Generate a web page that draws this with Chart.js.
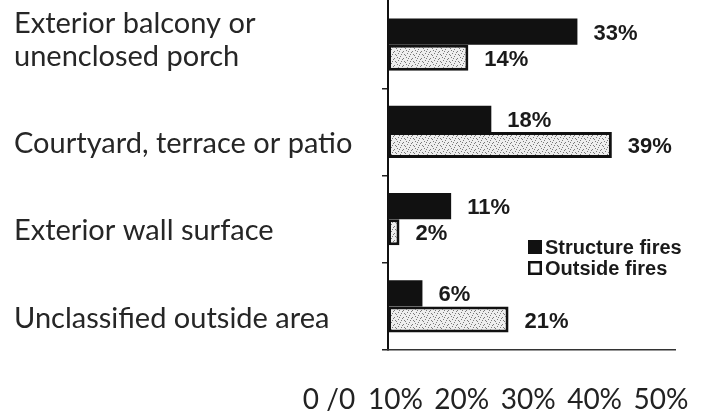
<!DOCTYPE html>
<html>
<head>
<meta charset="utf-8">
<script src="https://cdn.jsdelivr.net/npm/chart.js@4"></script>
<style>
  html, body { margin: 0; padding: 0; background: #fff; }
  canvas { display: block; }
</style>
</head>
<body>
<canvas id="fireChart" width="701" height="411" style="width:701px;height:411px"></canvas>
<script>
// Data
const categories = [
  ["Exterior balcony or", "unenclosed porch"],
  "Courtyard, terrace or patio",
  "Exterior wall surface",
  "Unclassified outside area"
];
const structureFires = [33, 18, 11, 6];
const outsideFires = [14, 39, 2, 21];
const seriesNames = ["Structure fires", "Outside fires"];
const xTickLabels = ["0 /0", "10%", "20%", "30%", "40%", "50%"];

const LABEL_FONT = "Lato, 'Open Sans', sans-serif";
const BOLD_FONT = "'Liberation Sans', Arial, sans-serif";

// light grey speckled fill, like the scanned original
function speckle() {
  const c = document.createElement("canvas");
  c.width = 9; c.height = 7;
  const g = c.getContext("2d");
  g.fillStyle = "#eeeeee";
  g.fillRect(0, 0, 9, 7);
  g.fillStyle = "#7a7a7a";
  [[1, 1], [4, 0], [7, 2], [2, 4], [5, 5], [8, 5], [0, 6], [6, 3], [3, 2]].forEach(([x, y]) => g.fillRect(x, y, 1, 1));
  return g.createPattern(c, "repeat");
}

function noPad(s) {
  s.paddingLeft = 0; s.paddingRight = 0;
  s.paddingTop = 0; s.paddingBottom = 0;
}

// value labels next to bars + the small legend inside the plot
const annotate = {
  id: "annotate",
  afterLayout(chart) {
    // the bottom percent labels are spaced independently of the bar scale
    const s = chart.scales.x2;
    s.left = 329;
    s.right = 661;
    s.width = s.right - s.left;
    s.configure();
  },
  afterDatasetsDraw(chart) {
    const ctx = chart.ctx;
    ctx.save();
    ctx.font = "bold 22px " + BOLD_FONT;
    ctx.fillStyle = "#1a1a1a";
    ctx.textAlign = "left";
    ctx.textBaseline = "middle";
    chart.data.datasets.forEach((ds, di) => {
      chart.getDatasetMeta(di).data.forEach((bar, i) => {
        ctx.fillText(ds.data[i] + "%", bar.x + 16, bar.y + 2);
      });
    });

    // legend
    const a = chart.chartArea;
    const lx = a.left + 140;
    const rows = [a.top + 247, a.top + 268];
    ctx.font = "bold 20px " + BOLD_FONT;
    chart.data.datasets.forEach((ds, di) => {
      const y = rows[di];
      if (di === 0) {
        ctx.fillStyle = "#111";
        ctx.fillRect(lx, y - 8, 14, 14);
      } else {
        ctx.fillStyle = "#fff";
        ctx.fillRect(lx, y - 8, 14, 14);
        ctx.strokeStyle = "#111";
        ctx.lineWidth = 2.5;
        ctx.strokeRect(lx + 1.25, y - 6.75, 11.5, 11.5);
      }
      ctx.fillStyle = "#1a1a1a";
      ctx.fillText(ds.label, lx + 17, y);
    });
    ctx.restore();
  }
};

new Chart(document.getElementById("fireChart"), {
  type: "bar",
  data: {
    labels: categories,
    datasets: [
      {
        label: seriesNames[0],
        data: structureFires,
        backgroundColor: "#111111",
        borderWidth: 0
      },
      {
        label: seriesNames[1],
        data: outsideFires,
        backgroundColor: speckle(),
        borderColor: "#111111",
        borderWidth: 3,
        borderSkipped: false
      }
    ]
  },
  options: {
    indexAxis: "y",
    responsive: false,
    devicePixelRatio: 1,
    animation: false,
    categoryPercentage: 0.6,
    barPercentage: 1,
    layout: { padding: { top: 1, left: 14, right: 26, bottom: 0 } },
    plugins: {
      legend: { display: false },
      title: { display: false },
      tooltip: { enabled: false }
    },
    scales: {
      y: {
        afterFit: (s) => { s.width = 374; noPad(s); },
        grid: {
          drawOnChartArea: false,
          drawTicks: true,
          tickLength: 6,
          lineWidth: 1.5,
          color: (c) => (c.index === 0 ? "rgba(0,0,0,0)" : "#222")
        },
        border: { display: true, color: "#111", width: 2 },
        ticks: {
          autoSkip: false,
          crossAlign: "far",
          labelOffset: 12,
          color: "#262626",
          font: { family: LABEL_FONT, size: 29, lineHeight: 1.13 },
          callback: (v, i) => {
            const l = categories[i];
            return Array.isArray(l) ? [...l, ""] : l;
          }
        }
      },
      x: {
        min: 0,
        max: 50,
        afterFit: (s) => { s.height = 0; noPad(s); },
        grid: { display: false, drawTicks: false },
        border: { display: true, color: "#333", width: 1.5 },
        ticks: { display: false }
      },
      x2: {
        type: "linear",
        position: "bottom",
        min: 0,
        max: 50,
        afterFit: (s) => { s.height = 61; noPad(s); },
        grid: { display: false, drawTicks: false },
        border: { display: false },
        ticks: {
          stepSize: 10,
          autoSkip: false,
          maxRotation: 0,
          minRotation: 0,
          padding: 33,
          color: "#222",
          font: { family: LABEL_FONT, size: 28 },
          callback: (v, i) => xTickLabels[i]
        }
      }
    }
  },
  plugins: [annotate]
});
</script>
</body>
</html>
